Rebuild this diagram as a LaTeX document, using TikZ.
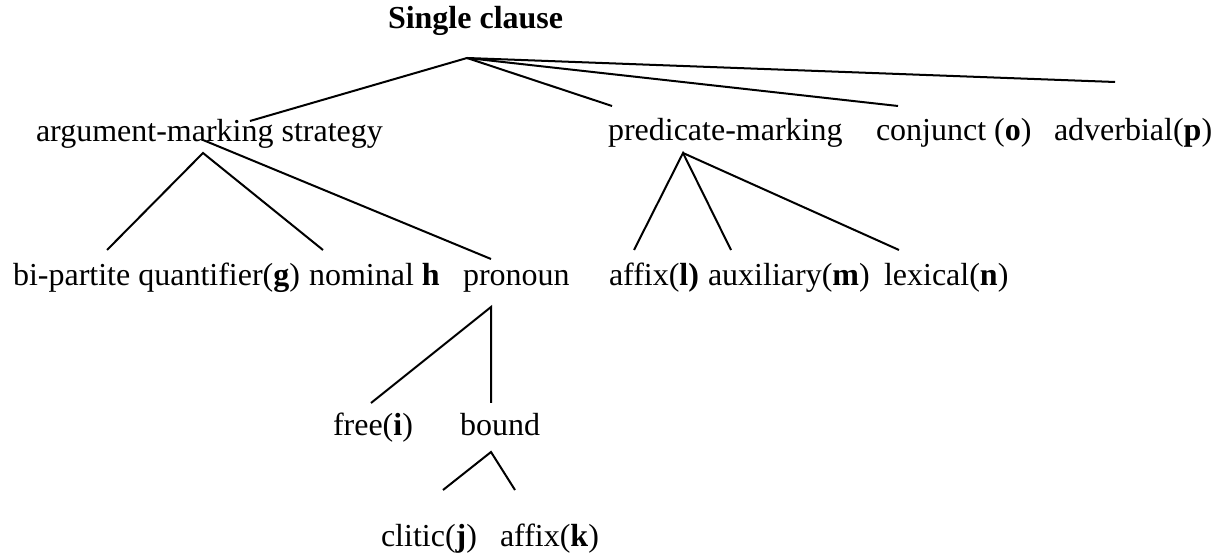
\documentclass[tikz,border=0pt]{standalone}
\usepackage{fontspec}
\setmainfont{Liberation Serif}
\begin{document}
\begin{tikzpicture}[x=0.375pt, y=-0.375pt, line width=0.75pt,
    lbl/.style={anchor=base west, inner sep=0pt, font=\fontsize{12}{14}\selectfont}]
    \useasboundingbox (0,0) rectangle (1221,554);
    % Top
    \node[lbl, font=\fontsize{12}{14}\selectfont\bfseries] (clause) at (387,29) {Single clause};
    % First level
    \node[lbl] (argmark) at (35,142) {argument-marking strategy};
    \node[lbl] (predmark) at (607,141) {predicate-marking};
    \node[lbl] (conjunct) at (875,141) {conjunct (\textbf{o})};
    \node[lbl] (adverbial) at (1053,141) {adverbial(\textbf{p})};
    % Second level
    \node[lbl] (quant) at (12,286) {bi-partite quantifier(\textbf{g})};
    \node[lbl] (nominal) at (308,286) {nominal \textbf{h}};
    \node[lbl] (pronoun) at (462,286) {pronoun};
    \node[lbl] (affixl) at (608,286) {affix(\textbf{l)}};
    \node[lbl] (auxil) at (707,286) {auxiliary(\textbf{m})};
    \node[lbl] (lexical) at (883,286) {lexical(\textbf{n})};
    % Third and fourth level
    \node[lbl] (free) at (332,436) {free(\textbf{i})};
    \node[lbl] (bound) at (459,436) {bound};
    \node[lbl] (clitic) at (380,546) {clitic(\textbf{j})};
    \node[lbl] (affixk) at (499,546) {affix(\textbf{k})};
    % Branch points and line ends
    \coordinate (clauseTop) at (467,58);
    \coordinate (argUp) at (250,121);
    \coordinate (predUp) at (612,106);
    \coordinate (conjUp) at (898,106);
    \coordinate (advUp) at (1115,82);
    \coordinate (argTop) at (203,153);
    \coordinate (argIn) at (203,140);
    \coordinate (quantUp) at (107,250);
    \coordinate (nomUp) at (323,250);
    \coordinate (pronUp) at (491,259);
    \coordinate (predTop) at (683,153);
    \coordinate (affixlUp) at (634,250);
    \coordinate (auxUp) at (731,250);
    \coordinate (lexUp) at (899,250);
    \coordinate (pronTop) at (491,307);
    \coordinate (freeUp) at (371,403);
    \coordinate (boundUp) at (491,403);
    \coordinate (boundTop) at (491,452);
    \coordinate (cliticUp) at (443,490);
    \coordinate (affixkUp) at (515,490);
    % Single clause branches
    \draw (clauseTop) -- (argUp);
    \draw (clauseTop) -- (predUp);
    \draw (clauseTop) -- (conjUp);
    \draw (clauseTop) -- (advUp);
    % argument-marking branches
    \draw (quantUp) -- (argTop) -- (nomUp);
    \draw (argIn) -- (pronUp);
    % predicate-marking branches
    \draw (affixlUp) -- (predTop) -- (auxUp);
    \draw (predTop) -- (lexUp);
    % pronoun and bound
    \draw (freeUp) -- (pronTop) -- (boundUp);
    \draw (cliticUp) -- (boundTop) -- (affixkUp);
\end{tikzpicture}
\end{document}
